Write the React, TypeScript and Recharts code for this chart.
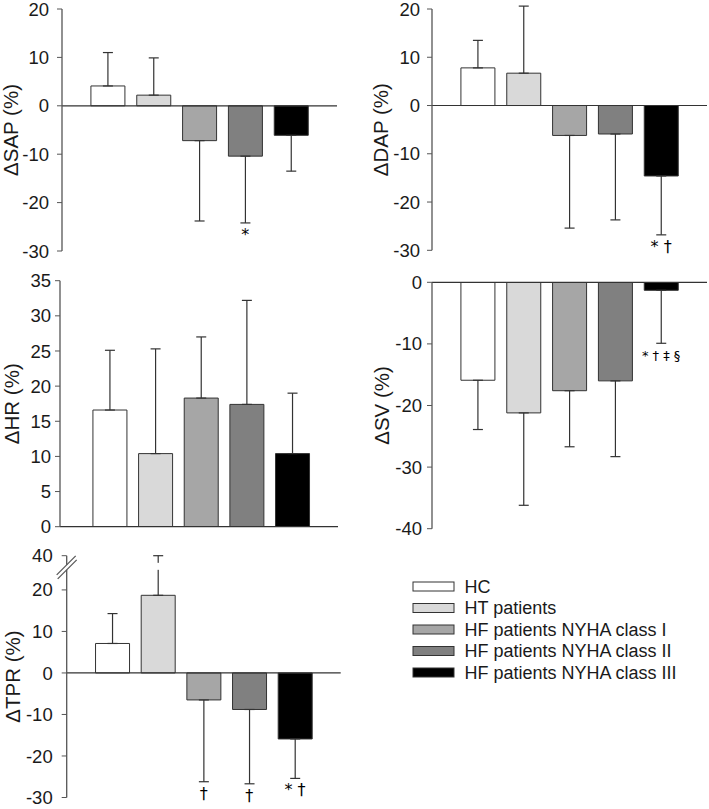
import React from "react";
import {
  BarChart,
  Bar,
  XAxis,
  YAxis,
  ErrorBar,
  Cell,
  ReferenceLine,
  ReferenceDot,
} from "recharts";

const FONT = "'Liberation Sans', Arial, Helvetica, sans-serif";
const NOTE_FONT = "'DejaVu Sans', 'Liberation Sans', sans-serif";

// ---------- data ----------
const groups = [
  "HC",
  "HT patients",
  "HF patients NYHA class I",
  "HF patients NYHA class II",
  "HF patients NYHA class III",
];

const sapMean = [4.1, 2.2, -7.2, -10.4, -6.1];
const sapSD = [6.9, 7.7, 16.6, 13.8, 7.4];
const sapNotes = ["", "", "", "*", ""];
const sapTicks = [-30, -20, -10, 0, 10, 20];

const dapMean = [7.8, 6.7, -6.2, -5.9, -14.6];
const dapSD = [5.7, 13.9, 19.2, 17.8, 12.2];
const dapNotes = ["", "", "", "", "* †"];
const dapTicks = [-30, -20, -10, 0, 10, 20];

const hrMean = [16.6, 10.4, 18.3, 17.4, 10.4];
const hrSD = [8.5, 14.9, 8.7, 14.8, 8.6];
const hrNotes = ["", "", "", "", ""];
const hrTicks = [0, 5, 10, 15, 20, 25, 30, 35];

const svMean = [-15.9, -21.2, -17.6, -16.0, -1.3];
const svSD = [8.0, 15.0, 9.1, 12.3, 8.6];
const svNotes = ["", "", "", "", "* † ‡ §"];
const svTicks = [-40, -30, -20, -10, 0];

const tprMean = [7.1, 18.7, -6.5, -8.8, -15.9];
const tprSD = [7.2, 21.3, 19.7, 17.9, 9.5];
const tprNotes = ["", "", "†", "†", "* †"];
const tprTicks = [-30, -20, -10, 0, 10, 20, 40];
const tprBreakFrom = 20;
const tprBreakMark = 33.5;
const tprCompress = 0.412;

// ---------- styles ----------
const barFills = ["#ffffff", "#d9d9d9", "#a6a6a6", "#808080", "#000000"];
const AXIS = "#555555";
const INK = "#1a1a1a";
const EDGE = "#333333";

const identity = (v: number) => v;
const tprTransform = (v: number) =>
  v <= tprBreakFrom ? v : tprBreakFrom + (v - tprBreakFrom) * tprCompress;

type PanelProps = {
  left: number;
  top: number;
  width: number;
  height: number;
  margin: { top: number; right: number; bottom: number; left: number };
  yWidth: number;
  ticks: number[];
  label: string;
  labelDist: number;
  tickMargin: number;
  mean: number[];
  sd: number[];
  notes: string[];
  noteFont?: number;
  xDomain?: number[];
  transform?: (v: number) => number;
  breakValue?: number;
  gapIndex?: number;
};

function Panel(props: PanelProps) {
  const {
    left,
    top,
    width,
    height,
    margin,
    yWidth,
    ticks,
    label,
    labelDist,
    tickMargin,
    mean,
    sd,
    notes,
    noteFont = 16,
    xDomain = [0, 6],
    transform = identity,
    breakValue,
    gapIndex,
  } = props;

  const data = mean.map((m, i) => {
    const end = m >= 0 ? m + sd[i] : m - sd[i];
    const tm = transform(m);
    const te = transform(end);
    return {
      x: i + 1,
      v: tm,
      err: m >= 0 ? [0, te - tm] : [tm - te, 0],
      end: te,
      note: notes[i],
    };
  });

  const tTicks = ticks.map(transform);
  const domain = [Math.min(...tTicks), Math.max(...tTicks)];
  const fmt = (val: number) => {
    const k = ticks.find((t) => Math.abs(transform(t) - val) < 1e-6);
    return k === undefined ? "" : String(k);
  };

  const labelContent = (p: any) => {
    const vb = p.viewBox || { x: 0, y: 0, width: yWidth, height: 0 };
    const x = vb.x + vb.width - labelDist;
    const y = vb.y + vb.height / 2;
    return (
      <text
        x={x}
        y={y}
        transform={`rotate(-90 ${x} ${y})`}
        textAnchor="middle"
        fontFamily={FONT}
        fontSize={20.5}
        fill={INK}
      >
        {label}
      </text>
    );
  };

  return (
    <div style={{ position: "absolute", left, top, width, height }}>
      <BarChart width={width} height={height} data={data} margin={margin}>
        <XAxis
          dataKey="x"
          type="number"
          domain={xDomain}
          hide
          allowDataOverflow
        />
        <YAxis
          type="number"
          domain={domain}
          ticks={tTicks}
          interval={0}
          allowDataOverflow
          width={yWidth}
          stroke={AXIS}
          tickSize={5}
          tickMargin={tickMargin}
          tickFormatter={fmt}
          tick={{ fill: INK, fontSize: 18.5, fontFamily: FONT }}
          tickLine={{ stroke: AXIS }}
          axisLine={{ stroke: AXIS, strokeWidth: 1.3 }}
          label={{ content: labelContent }}
        />
        <Bar
          dataKey="v"
          barSize={34}
          stroke={EDGE}
          strokeWidth={1}
          isAnimationActive={false}
        >
          {data.map((d, i) => (
            <Cell key={i} fill={barFills[i]} />
          ))}
          <ErrorBar
            dataKey="err"
            direction="y"
            width={5}
            stroke={EDGE}
            strokeWidth={1.2}
            isAnimationActive={false}
          />
        </Bar>
        <ReferenceLine y={0} stroke={EDGE} strokeWidth={1.2} />
        {data
          .filter((d) => d.note)
          .map((d) => (
            <ReferenceDot
              key={"n" + d.x}
              x={d.x}
              y={d.end}
              r={0}
              ifOverflow="visible"
              shape={(p: any) => (
                <text
                  x={p.cx}
                  y={p.cy + 17}
                  textAnchor="middle"
                  fontFamily={NOTE_FONT}
                  fontSize={noteFont}
                  fill="#000000"
                >
                  {d.note}
                </text>
              )}
            />
          ))}
        {breakValue !== undefined && (
          <ReferenceDot
            x={xDomain[0]}
            y={transform(breakValue)}
            r={0}
            ifOverflow="visible"
            shape={(p: any) => (
              <g>
                <rect x={p.cx - 2} y={p.cy - 2} width={4} height={5} fill="#fff" />
                <line
                  x1={p.cx - 10}
                  y1={p.cy + 8}
                  x2={p.cx + 9}
                  y2={p.cy - 11}
                  stroke={AXIS}
                  strokeWidth={1.2}
                />
                <line
                  x1={p.cx - 9}
                  y1={p.cy + 12}
                  x2={p.cx + 10}
                  y2={p.cy - 7}
                  stroke={AXIS}
                  strokeWidth={1.2}
                />
              </g>
            )}
          />
        )}
        {breakValue !== undefined && gapIndex !== undefined && (
          <ReferenceDot
            x={gapIndex}
            y={transform(breakValue)}
            r={0}
            ifOverflow="visible"
            shape={(p: any) => (
              <rect x={p.cx - 3} y={p.cy - 4} width={6} height={7} fill="#fff" />
            )}
          />
        )}
      </BarChart>
    </div>
  );
}

function GroupLegend() {
  const rowGap = 21.5;
  return (
    <svg
      width={300}
      height={120}
      style={{ position: "absolute", left: 400, top: 570 }}
    >
      {groups.map((g, i) => {
        const cy = 16.5 + i * rowGap;
        return (
          <g key={g}>
            <rect
              x={13}
              y={cy - 4.5}
              width={41}
              height={9}
              fill={barFills[i]}
              stroke={EDGE}
              strokeWidth={1}
            />
            <text
              x={64.5}
              y={cy + 6.4}
              fontFamily={FONT}
              fontSize={18}
              fill={INK}
            >
              {g}
            </text>
          </g>
        );
      })}
    </svg>
  );
}

export default function App() {
  return (
    <div
      style={{
        position: "absolute",
        left: 0,
        top: 0,
        width: 709,
        height: 809,
        background: "#ffffff",
        overflow: "hidden",
      }}
    >
      <Panel
        left={0}
        top={0}
        width={345}
        height={266}
        margin={{ top: 9, right: 8, bottom: 15, left: 0 }}
        yWidth={62}
        ticks={sapTicks}
        label="ΔSAP (%)"
        labelDist={44}
        tickMargin={8}
        mean={sapMean}
        sd={sapSD}
        notes={sapNotes}
      />
      <Panel
        left={370}
        top={0}
        width={339}
        height={266}
        margin={{ top: 9, right: 2, bottom: 15.7, left: 0 }}
        yWidth={62}
        ticks={dapTicks}
        label="ΔDAP (%)"
        labelDist={44}
        tickMargin={7}
        mean={dapMean}
        sd={dapSD}
        notes={dapNotes}
      />
      <Panel
        left={0}
        top={270}
        width={345}
        height={266}
        margin={{ top: 10.7, right: 7, bottom: 9.3, left: 0 }}
        yWidth={60}
        ticks={hrTicks}
        label="ΔHR (%)"
        labelDist={40.5}
        tickMargin={4}
        mean={hrMean}
        sd={hrSD}
        notes={hrNotes}
        xDomain={[-0.09, 6]}
      />
      <Panel
        left={370}
        top={270}
        width={339}
        height={268}
        margin={{ top: 12.3, right: 2, bottom: 9.3, left: 0 }}
        yWidth={62}
        ticks={svTicks}
        label="ΔSV (%)"
        labelDist={43}
        tickMargin={5}
        mean={svMean}
        sd={svSD}
        notes={svNotes}
        noteFont={13}
      />
      <Panel
        left={0}
        top={535}
        width={345}
        height={274}
        margin={{ top: 20.7, right: 4.3, bottom: 11.5, left: 0 }}
        yWidth={66.7}
        ticks={tprTicks}
        label="ΔTPR (%)"
        labelDist={47}
        tickMargin={9}
        mean={tprMean}
        sd={tprSD}
        notes={tprNotes}
        transform={tprTransform}
        breakValue={tprBreakMark}
        gapIndex={2}
      />
      <GroupLegend />
    </div>
  );
}
